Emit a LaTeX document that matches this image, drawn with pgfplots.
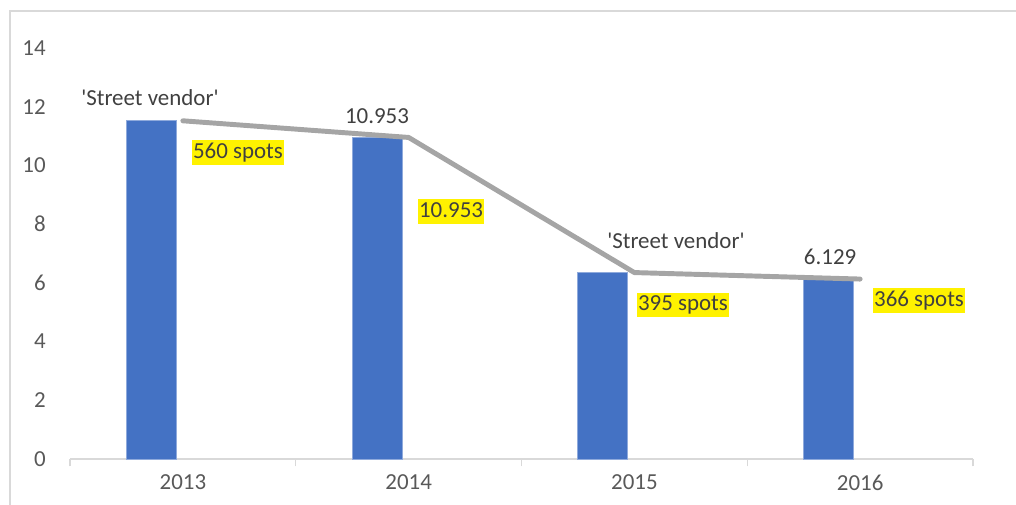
\documentclass[border=0pt]{standalone}
\usepackage{fontspec}
\setmainfont{Carlito}
\usepackage{pgfplots}
\pgfplotsset{compat=1.18}
\definecolor{barblue}{HTML}{4472C4}
\definecolor{baredge}{HTML}{8FAADC}
\definecolor{linegray}{HTML}{A5A5A5}
\definecolor{axisgray}{HTML}{D9D9D9}
\definecolor{ticktext}{HTML}{595959}
\definecolor{lbltext}{HTML}{404040}
\newcommand\lf{\fontsize{17.2}{20}\selectfont}
\begin{document}
\begin{tikzpicture}[x=1pt,y=1pt]
\path[use as bounding box] (0,0) rectangle (762,378.75);
\draw[axisgray, line width=1.1pt] (7.5,-2) -- (7.5,370.5) -- (764,370.5);
\begin{axis}[
  at={(52.5pt,34.5pt)}, anchor=south west,
  scale only axis, width=677.25pt, height=308.25pt,
  xmin=-0.5, xmax=3.5, ymin=0, ymax=14,
  axis x line=bottom, axis y line=left,
  x axis line style={-, draw=axisgray, line width=1.1pt},
  y axis line style={draw=none},
  xtick={0,1,2,3}, xticklabels={2013,2014,2015,2016},
  minor xtick={-0.5,0.5,1.5,2.5,3.5},
  ytick={0,2,4,6,8,10,12,14},
  tick align=outside,
  major tick length=0pt, minor tick length=5.5pt,
  xtick style={draw=axisgray, line width=1.1pt},
  ytick style={draw=none},
  /pgf/number format/assume math mode=true,
  tick label style={font=\lf, text=ticktext},
  yticklabel style={anchor=east, inner sep=0pt, xshift=-18pt},
  xticklabel style={anchor=north, inner sep=0pt, yshift=-11.8pt},
  clip=false,
]
\addplot[ybar, bar width=37.5pt, bar shift=-23.7pt, fill=barblue, draw=baredge, line width=0.5pt]
  coordinates {(0,11.52) (1,10.953) (2,6.35) (3,6.129)};
\addplot[sharp plot, no marks, draw=linegray, line width=3.7pt, line cap=round, line join=round]
  coordinates {(0,11.52) (1,10.953) (2,6.35) (3,6.129)};
\node[font=\lf, text=lbltext] at (axis cs:-0.146,12.30) {\textquotesingle Street vendor\textquotesingle};
\node[font=\lf, text=lbltext] at (axis cs:0.86,11.68) {10.953};
\node[font=\lf, text=lbltext] at (axis cs:2.184,7.43) {\textquotesingle Street vendor\textquotesingle};
\node[font=\lf, text=lbltext] at (axis cs:2.867,6.88) {6.129};
\tikzset{hl/.style={font=\lf, text=lbltext, fill=yellow, inner xsep=0.75pt, inner ysep=0.6pt, text height=13pt, text depth=4.2pt}}
\node[hl] at (axis cs:0.244,10.44) {560 spots};
\node[hl] at (axis cs:1.188,8.43) {10.953};
\node[hl] at (axis cs:2.215,5.245) {395 spots};
\node[hl] at (axis cs:3.261,5.40) {366 spots};
\end{axis}
\end{tikzpicture}
\end{document}
